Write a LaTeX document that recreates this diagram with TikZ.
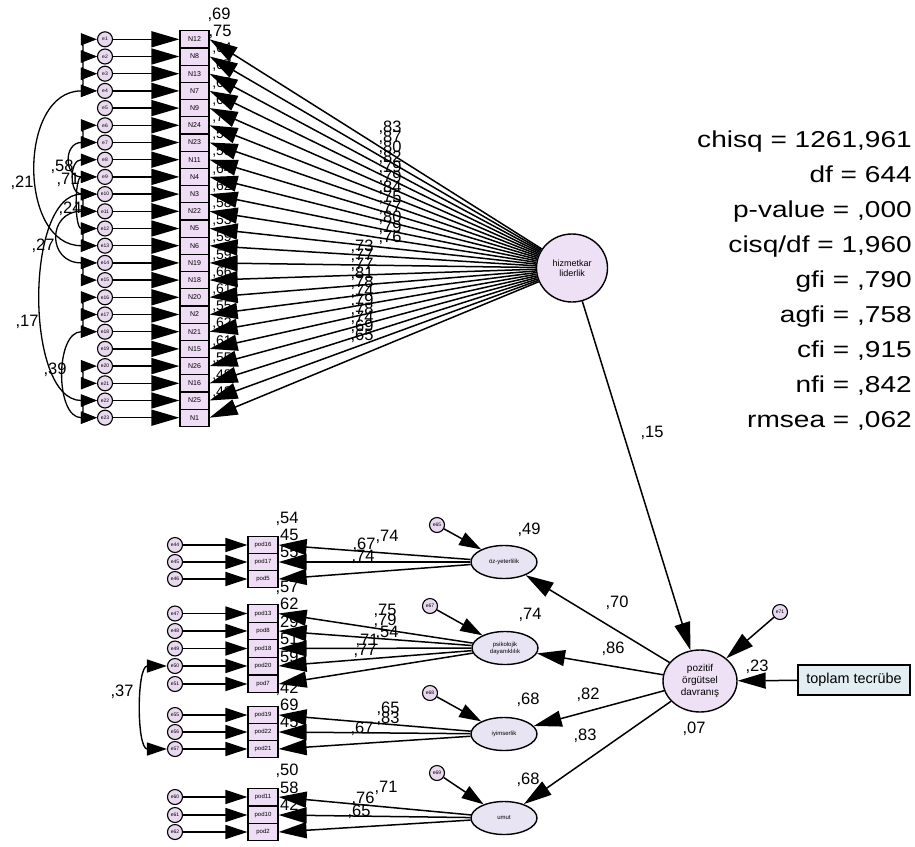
\documentclass[tikz,border=0pt]{standalone}
\usepackage{fontspec}
\setmainfont{Liberation Sans}
\usetikzlibrary{arrows.meta,shapes.geometric}
\definecolor{errfill}{HTML}{E9D9EF}
\definecolor{boxfill}{HTML}{EEDDF4}
\definecolor{latfill}{HTML}{EEE0F5}
\definecolor{subfill}{HTML}{E9E4F3}
\definecolor{ctlfill}{HTML}{E3EEF2}
\begin{document}
\begin{tikzpicture}[x=1pt,y=-1pt,
  err/.style={circle,draw,line width=1.1pt,fill=errfill,minimum size=15pt,inner sep=0pt,font=\fontsize{5}{5}\selectfont},
  ind/.style={rectangle,draw,line width=1.2pt,fill=boxfill,minimum width=29pt,minimum height=17.2pt,inner sep=0pt,font=\fontsize{7}{7}\selectfont},
  pod/.style={ind,minimum width=30pt,minimum height=17.5pt,font=\fontsize{6}{6}\selectfont},
  lat/.style={ellipse,draw,line width=1.4pt,fill=latfill,inner sep=0pt,align=center},
  sub/.style={lat,fill=subfill,minimum width=66pt,minimum height=33pt,font=\fontsize{6}{7}\selectfont},
  big/.style={line width=1.5pt,-{Triangle[length=28pt,width=16pt]}},
  mid/.style={line width=1.5pt,-{Triangle[length=22pt,width=14pt]}},
  cov/.style={line width=1.3pt,{Triangle[length=16pt,width=12pt]}-{Triangle[length=16pt,width=12pt]}},
  covb/.style={line width=1.4pt,{Triangle[length=20pt,width=13pt]}-{Triangle[length=20pt,width=13pt]}},
  num/.style={inner sep=0pt,font=\fontsize{16.5}{16.5}\selectfont},
  stat/.style={inner sep=0pt,anchor=base east,font=\fontsize{23}{23}\selectfont,xscale=1.22,transform shape},
]
\useasboundingbox (0,0) rectangle (915,846);

% ---------- servant leadership measurement block ----------
\node[lat,minimum width=71pt,minimum height=68pt,font=\fontsize{9}{10}\selectfont] (hz) at (572,268) {hizmetkar\\liderlik};
\foreach \lab [count=\k] in {N12,N8,N13,N7,N9,N24,N23,N11,N4,N3,N22,N5,N6,N19,N18,N20,N2,N21,N15,N26,N16,N25,N1}{
  \node[err] (e\k) at (105,{39.3+17.2*(\k-1)}) {e\k};
  \node[ind] (n\k) at (194.5,{39.3+17.2*(\k-1)}) {\lab};
}
% squared multiple correlations of the items (mostly under the arrow tips)
\node[num] at (219,14.3) {,69};
\node[num] at (220,31.5) {,75};
\foreach \r [count=\k from 3] in {64,67,62,62,71,56,59,64,62,58,53,59,59,66,61,55,62,61,55,48,42}
  \node[num,font=\fontsize{14}{14}\selectfont] at (222,{14.3+17.2*(\k-1)}) {,\r};
% standardized loadings
\foreach \v [count=\j from 0] in {83,87,80,82,79,79,84,75,77,80,79,76}
  \node[num] at (390,{128+10*\j}) {,\v};
\foreach \v [count=\j from 0] in {73,77,77,81,78,74,79,78,74,69,65}
  \node[num] at (362,{247+8.9*\j}) {,\v};

\foreach \k in {1,...,23}{
  \draw[big] (e\k) -- (n\k);
  \draw[big] (hz) -- (n\k.east);
}

% error covariances
\foreach \a/\b/\l in {1/2/2.0,2/3/2.0,3/4/2.0,6/7/2.0,10/11/2.0,12/13/2.0,14/15/2.0,16/17/2.0,17/18/2.0,20/21/2.0,22/23/2.0,
                      7/9/2.48,8/10/2.08,9/12/1.12,11/14/2.48,18/23/1.25,4/13/1.31,10/22/0.90}
  \draw[cov] (e\a) to[out=180,in=180,looseness=\l] (e\b);
\node[num] at (22,183) {,21};
\node[num] at (62,167) {,58};
\node[num] at (68,180) {,71};
\node[num] at (70,209) {,24};
\node[num] at (43,246) {,27};
\node[num] at (27,322) {,17};
\node[num] at (55,370) {,39};

% ---------- positive organizational behaviour ----------
\node[lat,minimum width=74pt,minimum height=62pt,font=\fontsize{10}{12}\selectfont] (poz) at (700,681) {pozitif\\örgütsel\\davranış};
\node[err] (e71) at (780,612) {e71};
\node[draw,line width=1.3pt,fill=ctlfill,minimum width=112pt,minimum height=30pt,inner sep=0pt,font=\fontsize{14.4}{14.4}\selectfont] (tec) at (854,680) {toplam tecrübe};

\node[sub] (oz) at (504,562) {öz-yeterlilik};
\node[sub] (psi) at (505,648) {psikolojik\\dayanıklılık};
\node[sub] (iyi) at (504,734) {iyimserlik};
\node[sub] (umu) at (504,818) {umut};
\node[err] (e65) at (437,525) {e65};
\node[err] (e67) at (430,606) {e67};
\node[err] (e68) at (430,693) {e68};
\node[err] (e69) at (437,773) {e69};

\foreach \lab/\yy/\en in {pod16/545/e44,pod17/562/e45,pod5/579/e46,
                          pod13/613.5/e47,pod8/631/e48,pod18/648.5/e49,pod20/666/e50,pod7/684/e51,
                          pod19/715/e55,pod22/732/e56,pod21/749/e57,
                          pod11/797/e60,pod10/815/e61,pod2/832/e62}{
  \node[pod] (\lab) at (263,\yy) {\lab};
  \node[err] (\en) at (175,\yy) {\en};
}
% squared multiple correlations
\foreach \r/\yy in {54/545,45/562,55/579,57/613.5,62/631,29/648.5,51/666,59/684,42/715,69/732,45/749,50/797,58/815,42/832}
  \node[num] at (287,{\yy-26}) {,\r};
% loadings
\node[num] at (387,537) {,74};
\node[num] at (364,545) {,67};
\node[num] at (363,557) {,74};
\node[num] at (385,611) {,75};
\node[num] at (385,621) {,79};
\node[num] at (387,633) {,54};
\node[num] at (367,641) {,71};
\node[num] at (365,651) {,77};
\node[num] at (388,709) {,65};
\node[num] at (388,719) {,83};
\node[num] at (362,729) {,67};
\node[num] at (386,788) {,71};
\node[num] at (363,799) {,76};
\node[num] at (359,812) {,65};

\foreach \lab/\en/\lv in {pod16/e44/oz,pod17/e45/oz,pod5/e46/oz,
                          pod13/e47/psi,pod8/e48/psi,pod18/e49/psi,pod20/e50/psi,pod7/e51/psi,
                          pod19/e55/iyi,pod22/e56/iyi,pod21/e57/iyi,
                          pod11/e60/umu,pod10/e61/umu,pod2/e62/umu}{
  \draw[mid] (\en) -- (\lab);
  \draw[big] (\lv) -- (\lab.east);
}
\draw[covb] (e50) to[out=180,in=180,looseness=0.94] (e57);
\node[num] at (122,692) {,37};

\foreach \ee/\lv in {e65/oz,e67/psi,e68/iyi,e69/umu}
  \draw[mid] (\ee) -- (\lv);
\foreach \lv in {oz,psi,iyi,umu}
  \draw[big] (poz) -- (\lv);
\draw[big] (hz) -- (poz);
\draw[big] (e71) -- (poz);
\draw[big] (tec) -- (poz);

\node[num] at (652,433) {,15};
\node[num] at (529,530) {,49};
\node[num] at (530,615) {,74};
\node[num] at (528,700) {,68};
\node[num] at (528,780) {,68};
\node[num] at (617,603) {,70};
\node[num] at (613,649) {,86};
\node[num] at (588,695) {,82};
\node[num] at (585,736) {,83};
\node[num] at (694,729) {,07};
\node[num] at (757,667) {,23};

% ---------- fit statistics ----------
\node[stat] at (912,147) {chisq = 1261,961};
\node[stat] at (912,182) {df = 644};
\node[stat] at (912,217) {p-value = ,000};
\node[stat] at (912,252) {cisq/df = 1,960};
\node[stat] at (912,287) {gfi = ,790};
\node[stat] at (912,322) {agfi = ,758};
\node[stat] at (912,357) {cfi = ,915};
\node[stat] at (912,392) {nfi = ,842};
\node[stat] at (912,427) {rmsea = ,062};
\end{tikzpicture}
\end{document}
